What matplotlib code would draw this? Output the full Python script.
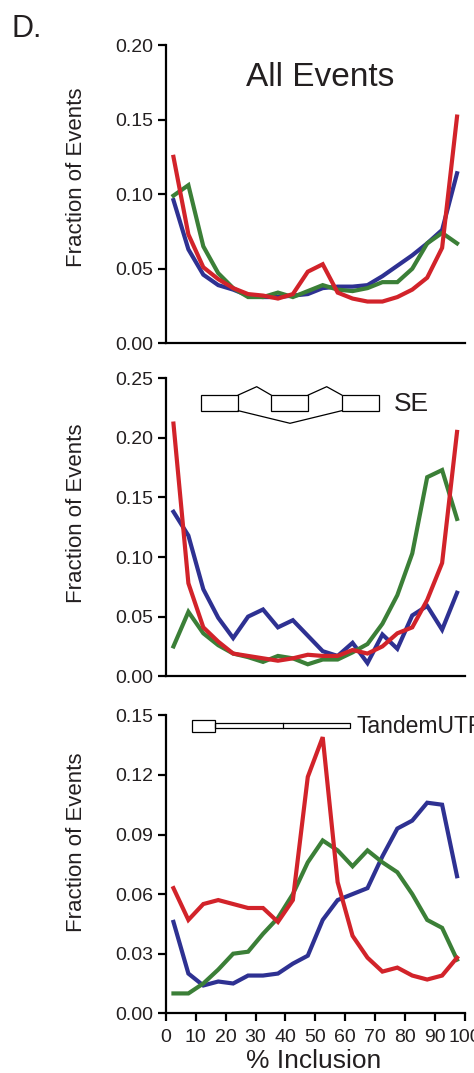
import matplotlib
matplotlib.use("Agg")
import matplotlib.pyplot as plt
from matplotlib.patches import Rectangle
from matplotlib.lines import Line2D
import numpy as np

plt.rcParams['font.family'] = ['Liberation Sans', 'DejaVu Sans']

# ---------------- data ----------------
inclusion = [2.5, 7.5, 12.5, 17.5, 22.5, 27.5, 32.5, 37.5, 42.5, 47.5,
             52.5, 57.5, 62.5, 67.5, 72.5, 77.5, 82.5, 87.5, 92.5, 97.5]

all_blue = [0.096, 0.063, 0.046, 0.039, 0.036, 0.032, 0.031, 0.031, 0.032, 0.033,
            0.037, 0.038, 0.038, 0.039, 0.045, 0.052, 0.059, 0.067, 0.076, 0.114]
all_green = [0.099, 0.106, 0.065, 0.047, 0.037, 0.031, 0.031, 0.034, 0.031, 0.035,
             0.039, 0.036, 0.035, 0.037, 0.041, 0.041, 0.050, 0.067, 0.074, 0.067]
all_red = [0.125, 0.073, 0.051, 0.043, 0.037, 0.033, 0.032, 0.030, 0.033, 0.048,
           0.053, 0.034, 0.030, 0.028, 0.028, 0.031, 0.036, 0.044, 0.064, 0.152]

se_blue = [0.138, 0.118, 0.073, 0.049, 0.032, 0.050, 0.056, 0.041, 0.047, 0.034,
           0.021, 0.017, 0.028, 0.011, 0.035, 0.023, 0.051, 0.059, 0.039, 0.070]
se_green = [0.025, 0.054, 0.036, 0.026, 0.019, 0.016, 0.012, 0.017, 0.015, 0.010,
            0.014, 0.014, 0.020, 0.027, 0.044, 0.068, 0.103, 0.167, 0.173, 0.132]
se_red = [0.212, 0.078, 0.041, 0.029, 0.019, 0.017, 0.015, 0.013, 0.015, 0.018,
          0.017, 0.017, 0.022, 0.019, 0.025, 0.036, 0.041, 0.064, 0.095, 0.205]

tu_blue = [0.046, 0.020, 0.014, 0.016, 0.015, 0.019, 0.019, 0.020, 0.025, 0.029,
           0.047, 0.057, 0.060, 0.063, 0.079, 0.093, 0.097, 0.106, 0.105, 0.069]
tu_green = [0.010, 0.010, 0.015, 0.022, 0.030, 0.031, 0.040, 0.048, 0.060, 0.076,
            0.087, 0.082, 0.074, 0.082, 0.076, 0.071, 0.060, 0.047, 0.043, 0.027]
tu_red = [0.063, 0.047, 0.055, 0.057, 0.055, 0.053, 0.053, 0.046, 0.057, 0.119,
          0.139, 0.066, 0.039, 0.028, 0.021, 0.023, 0.019, 0.017, 0.019, 0.028]

panel_titles = ["All Events", "SE", "TandemUTR"]
y_ticks = [[0.00, 0.05, 0.10, 0.15, 0.20],
           [0.00, 0.05, 0.10, 0.15, 0.20, 0.25],
           [0.00, 0.03, 0.06, 0.09, 0.12, 0.15]]
x_ticks = [0, 10, 20, 30, 40, 50, 60, 70, 80, 90, 100]

# ---------------- style ----------------
BLUE = '#2e3192'
GREEN = '#3b7f37'
RED = '#d2232a'
TXT = '#231f20'

W, H = 474, 1073
fig = plt.figure(figsize=(W / 100, H / 100), dpi=100)


def fx(px):
    return px / W


def fy(py):
    return 1 - py / H


left, right = 166, 464.5
panels_px = [(45, 343.3), (378.3, 676.2), (715.3, 1013.3)]
series = [(all_blue, all_green, all_red),
          (se_blue, se_green, se_red),
          (tu_blue, tu_green, tu_red)]

axes = []
for i, ((top, bot), (b, g, r)) in enumerate(zip(panels_px, series)):
    ax = fig.add_axes([fx(left), fy(bot), (right - left) / W, (bot - top) / H])
    ax.plot(inclusion, b, color=BLUE, lw=3, solid_joinstyle='miter', clip_on=False)
    ax.plot(inclusion, g, color=GREEN, lw=3, solid_joinstyle='miter', clip_on=False)
    ax.plot(inclusion, r, color=RED, lw=3, solid_joinstyle='miter', clip_on=False)
    ax.set_xlim(0, 100)
    ax.set_ylim(y_ticks[i][0], y_ticks[i][-1])
    for s in ['top', 'right']:
        ax.spines[s].set_visible(False)
    for s in ['left', 'bottom']:
        ax.spines[s].set_linewidth(1.6)
        ax.spines[s].set_color('black')
    ax.set_yticks(y_ticks[i])
    ax.set_yticklabels([f"{v:.2f}" for v in y_ticks[i]])
    ax.tick_params(axis='y', direction='out', length=6, width=1.6, labelsize=14,
                   pad=3, labelcolor=TXT)
    if i < 2:
        ax.set_xticks([])
    else:
        ax.set_xticks(x_ticks)
        ax.set_xticklabels([str(v) for v in x_ticks])
        ax.tick_params(axis='x', direction='out', length=6, width=1.6, labelsize=14,
                       pad=5, labelcolor=TXT)
    ax.patch.set_alpha(0)
    axes.append(ax)

# y labels
for (top, bot), cy in zip(panels_px, [177, 513, 842]):
    fig.text(fx(81.5), fy(cy), "Fraction of Events", rotation=90,
             rotation_mode='anchor', ha='center', va='baseline', fontsize=16, color=TXT)

# x label
fig.text(fx(314), fy(1068), "% Inclusion", ha='center', va='baseline', fontsize=19, color=TXT)

# panel letter
fig.text(fx(12), fy(37.3), "D.", ha='left', va='baseline', fontsize=22, color=TXT)

# titles
fig.text(fx(320), fy(86), panel_titles[0], ha='center', va='baseline', fontsize=24, color=TXT)
fig.text(fx(394), fy(411), panel_titles[1], ha='left', va='baseline', fontsize=19, color=TXT)
fig.text(fx(356.5), fy(733), panel_titles[2], ha='left', va='baseline', fontsize=16.5, color=TXT)

lwd = 0.9


def rect_px(x0, y0, x1, y1):
    fig.add_artist(Rectangle((fx(x0), fy(y1)), (x1 - x0) / W, (y1 - y0) / H,
                             transform=fig.transFigure, fill=False, ec='black', lw=lwd))


def line_px(xs, ys):
    fig.add_artist(Line2D([fx(v) for v in xs], [fy(v) for v in ys],
                          transform=fig.transFigure, color='black', lw=lwd))


# SE diagram
rect_px(200.7, 395, 238.3, 410.7)
rect_px(271, 395, 308.3, 410.7)
rect_px(341.7, 395, 379.3, 410.7)
line_px([238.3, 256.7, 271], [395, 386.7, 395])
line_px([308.3, 326.7, 341.7], [395, 386.7, 395])
line_px([238.3, 290, 341.7], [410.7, 423.3, 410.7])

# TandemUTR diagram
rect_px(191.7, 720, 215, 732.3)
rect_px(215, 722.7, 350, 728.3)
line_px([282.7, 282.7], [722.7, 728.3])

fig.savefig("out.png", dpi=100)
